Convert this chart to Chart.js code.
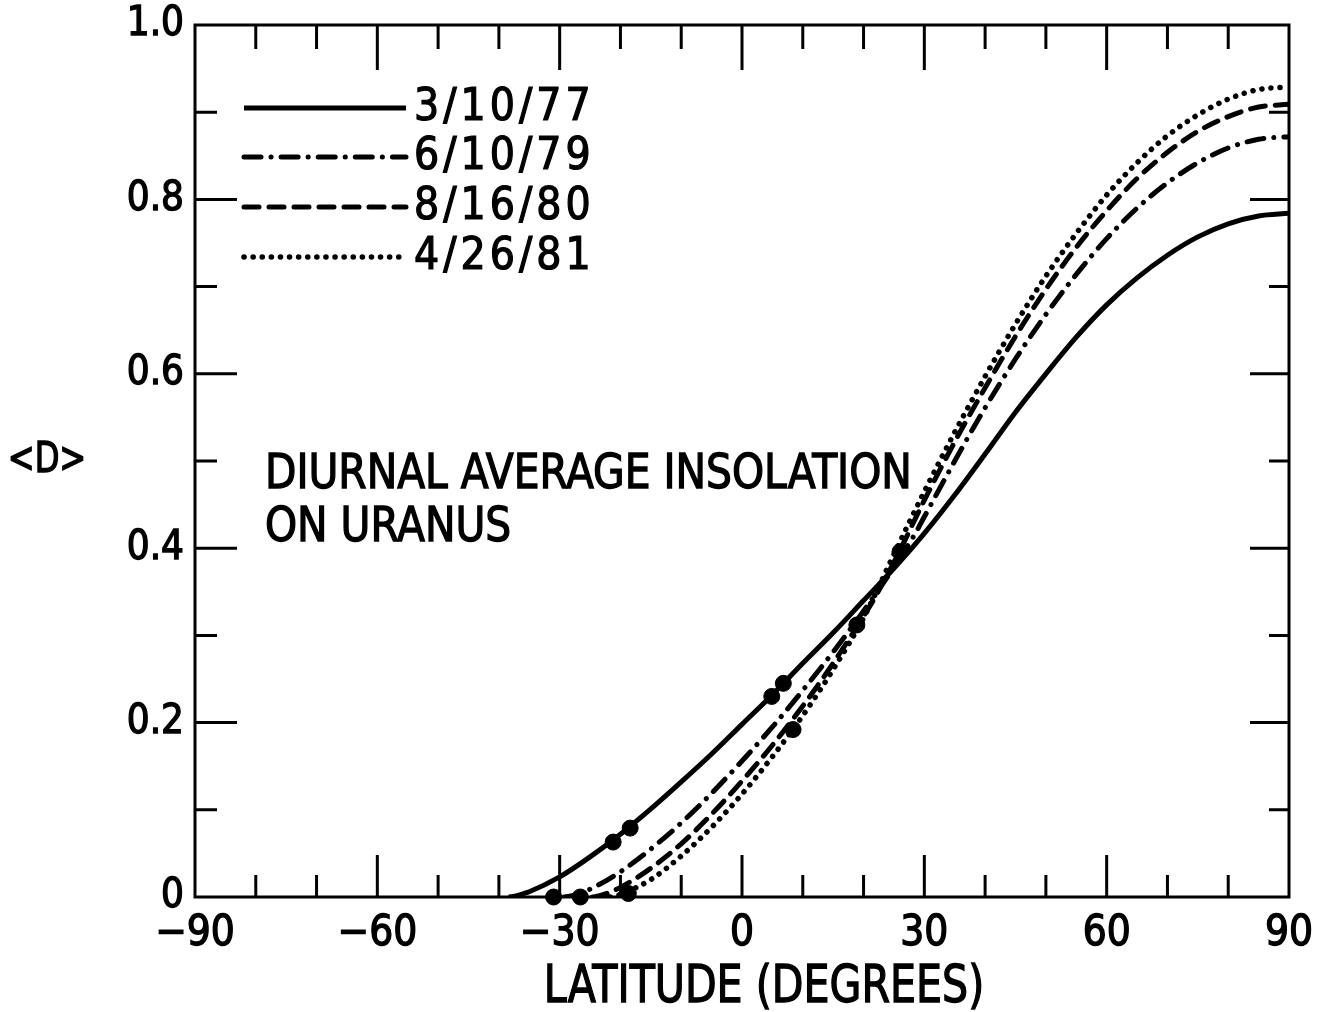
<!DOCTYPE html>
<html><head><meta charset="utf-8">
<script src="https://cdn.jsdelivr.net/npm/chart.js@4.4.0/dist/chart.umd.min.js"></script>
<style>html,body{margin:0;padding:0;background:#fff}#wrap{width:1335px;height:1012px}</style>
</head><body><div id="wrap"><canvas id="c" width="1335" height="1012"></canvas></div>
<script>
// ---- data ----
const seriesNames = ['3/10/77', '6/10/79', '8/16/80', '4/26/81'];

const lat77 = [-38.4,-38,-37,-36,-35,-30,-25,-20,-15,-10,-5,0,5,10,15,20,25,30,35,40,45,50,55,60,65,70,75,80,85,90];
const d77   = [0,0.0003,0.0015,0.0037,0.006,0.023,0.046,0.072,0.101,0.132,0.164,0.198,0.232,0.268,0.303,0.340,0.377,0.417,0.461,0.508,0.556,0.600,0.642,0.679,0.710,0.736,0.757,0.772,0.781,0.784];

const lat79 = [-29.3,-29,-28,-27,-25,-20,-15,-10,-5,0,5,10,15,20,25,27,28,29,29.3,30,35,40,45,50,55,60,65,70,75,80,85,90];
const d79   = [0,0.0002,0.0016,0.0037,0.009,0.029,0.055,0.085,0.119,0.156,0.195,0.237,0.281,0.328,0.378,0.400,0.411,0.423,0.427,0.436,0.500,0.561,0.617,0.668,0.714,0.755,0.790,0.819,0.842,0.859,0.869,0.872];

const lat80 = [-24.6,-24,-23,-22,-20,-15,-10,-5,0,5,10,15,20,22,23,24,24.6,25,30,35,40,45,50,55,60,65,70,75,80,85,90];
const d80   = [0,0.0005,0.0023,0.0047,0.011,0.033,0.061,0.095,0.133,0.174,0.219,0.268,0.322,0.345,0.358,0.370,0.379,0.384,0.455,0.522,0.584,0.643,0.697,0.745,0.787,0.824,0.854,0.878,0.895,0.906,0.909];

const lat81 = [-21.7,-21,-20,-15,-10,-5,0,5,10,15,20,21,21.7,25,30,35,40,45,50,55,60,65,70,75,80,85,90];
const d81   = [0,0.0007,0.003,0.020,0.047,0.080,0.118,0.161,0.208,0.261,0.320,0.334,0.344,0.393,0.465,0.533,0.597,0.657,0.712,0.761,0.805,0.842,0.873,0.897,0.915,0.926,0.929];

const dotLat = [-31.0,-26.6,-18.7,-21.2,-18.4,4.9,6.8,8.4,18.9,26.0];
const dotVal = [0,0,0.004,0.063,0.079,0.230,0.245,0.192,0.312,0.396];

const xTickValues = [-90,-60,-30,0,30,60,90];
const xTickLabels = ['\u221290','\u221260','\u221230','0','30','60','90'];
const yTickValues = [0,0.2,0.4,0.6,0.8,1.0];
const yTickLabels = ['0','0.2','0.4','0.6','0.8','1.0'];
const xMinorMarks = [-80,-70,-60,-50,-40,-30,-20,-10,0,10,20,30,40,50,60,70,80];
const yMinorMarks = [0.1,0.2,0.3,0.4,0.5,0.6,0.7,0.8,0.9];

const xTitle = 'LATITUDE (DEGREES)';
const yTitle = '<D>';
const noteLines = ['DIURNAL AVERAGE INSOLATION', 'ON URANUS'];

// ---- build ----
const FONT = "'DejaVu Sans Condensed', 'DejaVu Sans', sans-serif";
const pts = (xs, ys) => xs.map((v, i) => ({x: v, y: ys[i]}));
const lineStyle = (name, xs, ys, dash, w) => ({
  label: name, data: pts(xs, ys), showLine: true, pointRadius: 0, pointHoverRadius: 0,
  borderColor: '#000', backgroundColor: '#000', borderWidth: w, borderDash: dash,
  borderCapStyle: dash.length ? 'round' : 'butt', cubicInterpolationMode: 'monotone', fill: false
});

const datasets = [
  lineStyle(seriesNames[0], lat77, d77, [], 5),
  lineStyle(seriesNames[1], lat79, d79, [17, 10, 0.1, 10], 5),
  lineStyle(seriesNames[2], lat80, d80, [15, 10], 5),
  lineStyle(seriesNames[3], lat81, d81, [0.1, 9], 5.5),
  { label: 'points', data: pts(dotLat, dotVal), showLine: false, pointRadius: 8, pointHoverRadius: 8,
    pointBackgroundColor: '#000', pointBorderColor: '#000', clip: false }
];

const legendRows = [108, 157, 207, 257];

function txt(ctx, s, x, y, sx, sw) {
  ctx.save();
  ctx.translate(x, y);
  ctx.scale(sx, 1);
  ctx.lineWidth = sw; ctx.strokeStyle = '#000';
  ctx.fillText(s, 0, 0);
  if (sw > 0) ctx.strokeText(s, 0, 0);
  ctx.restore();
}

const decor = {
  id: 'decor',
  afterDatasetsDraw(chart) {
    const {ctx, chartArea: a, scales: {x, y}} = chart;
    ctx.save();
    ctx.strokeStyle = '#000'; ctx.fillStyle = '#000';
    ctx.lineWidth = 3; ctx.lineCap = 'butt';
    ctx.strokeRect(a.left, a.top, a.right - a.left, a.bottom - a.top);
    ctx.beginPath();
    xMinorMarks.forEach(v => {
      const px = x.getPixelForValue(v);
      const major = (v % 30 === 0);
      ctx.moveTo(px, a.bottom); ctx.lineTo(px, a.bottom - (major ? 42 : 22));
      ctx.moveTo(px, a.top); ctx.lineTo(px, a.top + (major ? 45 : 24));
    });
    yMinorMarks.forEach(v => {
      const py = y.getPixelForValue(v);
      const major = Math.round(v * 10) % 2 === 0;
      ctx.moveTo(a.left, py); ctx.lineTo(a.left + (major ? 42 : 22), py);
      ctx.moveTo(a.right, py); ctx.lineTo(a.right - (major ? 39 : 20), py);
    });
    ctx.stroke();

    // legend
    for (let i = 0; i < 4; i++) {
      const ds = chart.data.datasets[i];
      const yy = legendRows[i];
      ctx.save();
      ctx.lineWidth = ds.borderWidth;
      ctx.setLineDash(ds.borderDash);
      ctx.lineCap = ds.borderCapStyle;
      ctx.beginPath(); ctx.moveTo(244, yy); ctx.lineTo(406, yy); ctx.stroke();
      ctx.restore();
      ctx.font = '44px ' + FONT;
      try { ctx.letterSpacing = '4px'; } catch (e) {}
      ctx.textBaseline = 'middle'; ctx.textAlign = 'left';
      txt(ctx, ds.label, 414, yy + 1, 1, 1.2);
      try { ctx.letterSpacing = '0px'; } catch (e) {}
    }

    // note
    ctx.font = '48px ' + FONT;
    ctx.textBaseline = 'alphabetic'; ctx.textAlign = 'left';
    txt(ctx, noteLines[0], 265, 488, 0.945, 1.3);
    txt(ctx, noteLines[1], 265, 541, 0.945, 1.3);

    // axis titles
    ctx.font = '52px ' + FONT;
    ctx.textAlign = 'center';
    txt(ctx, xTitle, 764, 1002, 0.88, 1.3);
    ctx.font = '42px ' + FONT;
    ctx.textBaseline = 'middle';
    txt(ctx, yTitle, 47, 461, 0.85, 1.4);
    ctx.restore();
  }
};

new Chart(document.getElementById('c'), {
  type: 'scatter',
  data: { datasets },
  options: {
    responsive: false, animation: false, events: [],
    layout: { padding: { left: 0, right: 46, top: 25, bottom: 0 } },
    plugins: { legend: { display: false }, tooltip: { enabled: false } },
    scales: {
      x: {
        type: 'linear', min: -90, max: 90,
        afterBuildTicks: s => { s.ticks = xTickValues.map(v => ({ value: v })); },
        ticks: { callback: (v) => xTickLabels[xTickValues.indexOf(v)], color: '#000',
                 textStrokeColor: '#000', textStrokeWidth: 1.3,
                 font: { family: FONT, size: 42 }, padding: 12, maxRotation: 0, autoSkip: false },
        grid: { display: false, drawTicks: false }, border: { display: false },
        afterFit: s => { s.height = 115; s.paddingLeft = 0; s.paddingRight = 0; }
      },
      y: {
        type: 'linear', min: 0, max: 1,
        afterBuildTicks: s => { s.ticks = yTickValues.map(v => ({ value: v })); },
        ticks: { callback: (v) => yTickLabels[yTickValues.indexOf(v)], color: '#000',
                 textStrokeColor: '#000', textStrokeWidth: 1.3,
                 font: { family: FONT, size: 40 }, padding: 11, autoSkip: false },
        grid: { display: false, drawTicks: false }, border: { display: false },
        afterFit: s => { s.width = 195; s.paddingTop = 0; s.paddingBottom = 0; }
      }
    }
  },
  plugins: [decor]
});
</script>
</body></html>
